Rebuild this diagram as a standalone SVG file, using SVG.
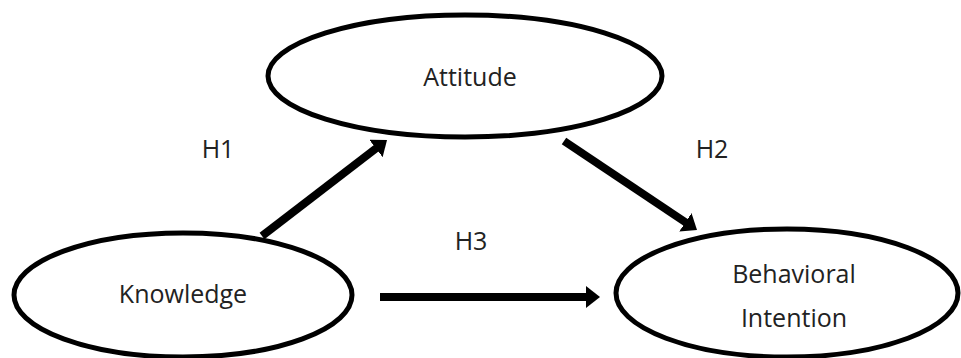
<svg xmlns="http://www.w3.org/2000/svg" width="961" height="358" viewBox="0 0 961 358">
<defs>
<style>
.node{fill:#fff;stroke:#000;stroke-width:5}
.lbl{font-family:"Open Sans","Noto Sans",sans-serif;font-size:25px;fill:#222;text-anchor:middle}
.conn{stroke:#000;stroke-width:8;fill:none}
</style>
<marker id="ah" markerUnits="userSpaceOnUse" markerWidth="16" markerHeight="22" refX="1" refY="11" orient="auto">
<path d="M0,0 L14,11 L0,22 Z" fill="#000"/>
</marker>
</defs>
<rect width="961" height="358" fill="#fff"/>
<g id="connectors">
<line class="conn" x1="262" y1="236" x2="376.7" y2="147.9" marker-end="url(#ah)"/>
<line class="conn" x1="564" y1="141" x2="686.2" y2="222.8" marker-end="url(#ah)"/>
<line class="conn" x1="380" y1="297" x2="587" y2="297" marker-end="url(#ah)"/>
</g>
<g id="attitude">
<ellipse class="node" cx="465" cy="76" rx="197" ry="61"/>
<text class="lbl" x="470" y="86">Attitude</text>
</g>
<g id="knowledge">
<ellipse class="node" cx="183" cy="295" rx="169" ry="62"/>
<text class="lbl" x="183" y="303">Knowledge</text>
</g>
<g id="behavioral">
<ellipse class="node" cx="787" cy="293" rx="171" ry="64"/>
<text class="lbl" x="794" y="283">Behavioral</text>
<text class="lbl" x="794" y="327">Intention</text>
</g>
<g id="labels">
<text class="lbl" x="218" y="158">H1</text>
<text class="lbl" x="712" y="158">H2</text>
<text class="lbl" x="471" y="250">H3</text>
</g>
</svg>
